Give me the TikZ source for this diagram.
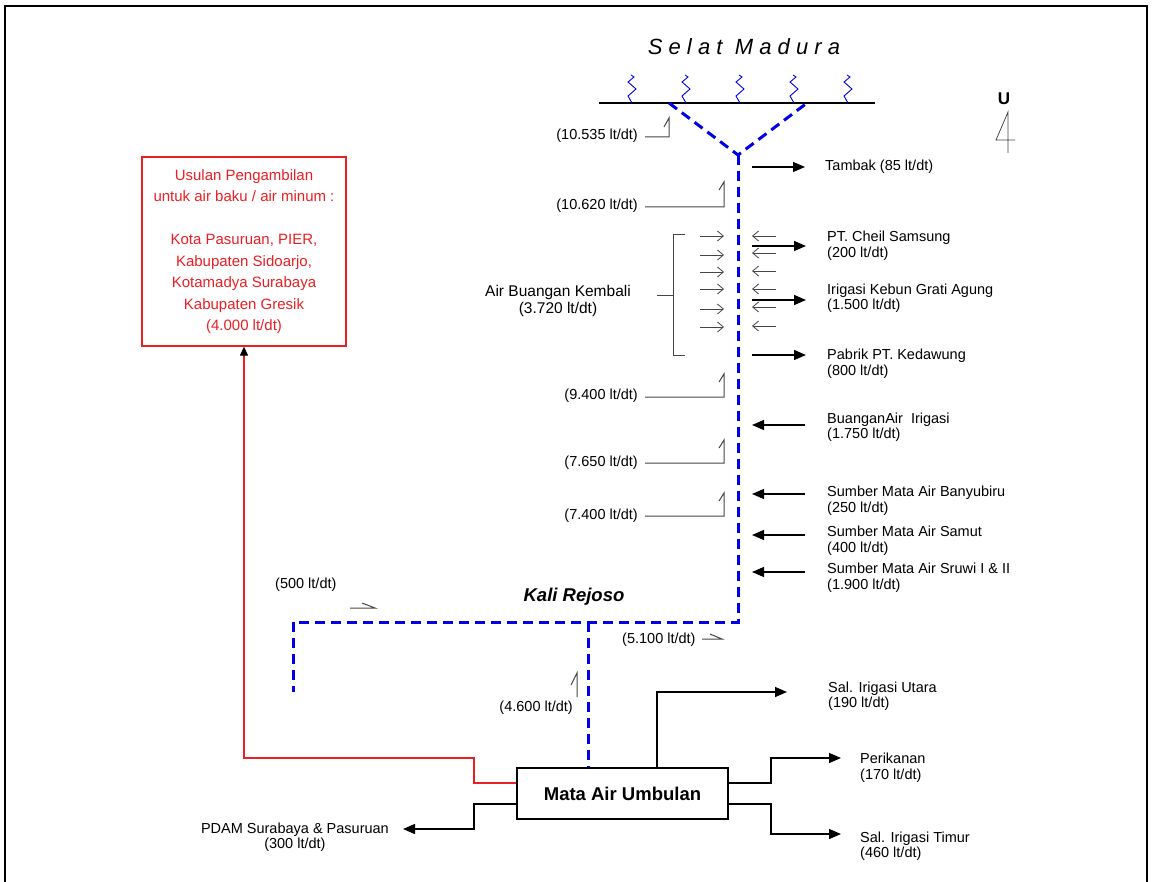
\documentclass[tikz,border=0pt]{standalone}
\usepackage{fontspec}
\setmainfont{Liberation Sans}
\usetikzlibrary{arrows.meta}
\definecolor{riverblue}{RGB}{0,0,230}
\definecolor{usulred}{RGB}{235,30,35}
\definecolor{markgray}{RGB}{70,70,70}

\begin{document}
\begin{tikzpicture}[x=1pt, y=-1pt,
  lbl/.style = {anchor=west, align=left, inner sep=0pt,
    font=\fontsize{14.5}{15.5}\selectfont},
  qty/.style = {anchor=east, inner sep=0pt,
    font=\fontsize{14.5}{15.5}\selectfont},
  river/.style = {draw=riverblue, line width=3pt, dash pattern=on 10pt off 6pt},
  wave/.style = {draw=riverblue, line width=0.9pt},
  outflow/.style = {draw, line width=1.3pt, -{Triangle[length=12pt,width=10pt]}},
  backarrow/.style = {draw=markgray, line width=0.8pt,
    -{Straight Barb[length=6pt,width=10pt]}},
  qmark/.style = {draw=markgray, line width=1pt},
  sourcebox/.style = {draw, line width=1.3pt, minimum width=211pt,
    minimum height=51pt, font=\fontsize{18.5}{20}\selectfont\bfseries},
  usulbox/.style = {draw=usulred, line width=1.3pt, text=usulred,
    minimum width=204pt, minimum height=189pt, align=center,
    font=\fontsize{15}{21.5}\selectfont}]
  \useasboundingbox (0,0) rectangle (1153,882);
  \draw[line width=2pt] (5,882) |- (1147,6) -- (1147,882);

  % sea and river
  \node[font=\fontsize{22}{26}\selectfont\itshape\addfontfeature{LetterSpace=28}]
    (selat) at (744,47) {Selat Madura};
  \coordinate (seaW) at (599,103);
  \coordinate (seaE) at (875,103);
  \draw[line width=1.3pt] (seaW) -- (seaE);
  \foreach \x in {632,686,740,794,848}
    \draw[wave] (\x,103) -- (\x-4,96) -- (\x+4,89) -- (\x-4,82) -- (\x+2,77) -- (\x-1,75);
  \coordinate (mouthL) at (669,103);
  \coordinate (mouthR) at (807,103);
  \coordinate (fork) at (738,155);
  \coordinate (bend) at (738,622);
  \coordinate (west) at (293,622);
  \coordinate (westend) at (293,692);
  \coordinate (tap) at (588,622);
  \draw[river] (mouthL) -- (fork) -- (mouthR);
  \draw[river] (fork) -- (bend) -- (west) -- (westend);
  \node[font=\fontsize{18.5}{20}\selectfont\bfseries\itshape] (rejoso) at (574,597) {Kali Rejoso};

  % north sign
  \node[font=\fontsize{17}{18}\selectfont\bfseries] (north) at (1004,99) {U};
  \draw[markgray, line width=0.8pt] (1008,153) -- (1008,112) -- (996,140) -- (1015,140);

  % source and proposal
  \node[sourcebox] (umbulan) at (622.5,793.5) {Mata Air Umbulan};
  \draw[river] (tap) -- (umbulan.north -| tap);
  \node[usulbox] (usulan) at (244,251.5) {Usulan Pengambilan\\untuk air baku / air minum :\\[21.5pt]
    Kota Pasuruan, PIER,\\Kabupaten Sidoarjo,\\Kotamadya Surabaya\\Kabupaten Gresik\\(4.000 lt/dt)};
  \draw[usulred, line width=1.3pt, -{Triangle[length=9pt,width=8pt,color=black]}]
    (umbulan.west |- 0,783) -- (474,783) |- (usulan.south |- 0,758) -- (usulan.south);

  % outflows from the source
  \node[lbl] (utara) at (828,696) {Sal. Irigasi Utara\\(190 lt/dt)};
  \node[lbl] (perikanan) at (860,767.5) {Perikanan\\(170 lt/dt)};
  \node[lbl] (timur) at (860,846) {Sal. Irigasi Timur\\(460 lt/dt)};
  \node[lbl, anchor=east, align=center] (pdam) at (389,837) {PDAM Surabaya \& Pasuruan\\(300 lt/dt)};
  \draw[outflow] (umbulan.north -| 657,0) |- ([xshift=-41pt,yshift=4pt]utara.west);
  \draw[outflow] (umbulan.east |- 0,783) -- (771,783) |- ([xshift=-19pt,yshift=9.5pt]perikanan.west);
  \draw[outflow] (umbulan.east |- 0,804) -- (771,804) |- ([xshift=-19pt,yshift=12pt]timur.west);
  \draw[outflow] (umbulan.west |- 0,804) -- (474,804) |- ([xshift=14pt,yshift=8pt]pdam.east);

  % takes and inflows along the river
  \node[lbl] (tambak) at (825,167) {Tambak (85 lt/dt)};
  \node[lbl] (cheil) at (827,245.5) {PT. Cheil Samsung\\(200 lt/dt)};
  \node[lbl] (grati) at (827,298) {Irigasi Kebun Grati Agung\\(1.500 lt/dt)};
  \node[lbl] (kedawung) at (827,363.5) {Pabrik PT. Kedawung\\(800 lt/dt)};
  \node[lbl] (irigasi) at (827,427) {BuanganAir\ \ Irigasi\\(1.750 lt/dt)};
  \node[lbl] (banyubiru) at (827,500.5) {Sumber Mata Air Banyubiru\\(250 lt/dt)};
  \node[lbl] (samut) at (827,540.5) {Sumber Mata Air Samut\\(400 lt/dt)};
  \node[lbl] (sruwi) at (827,577.5) {Sumber Mata Air Sruwi I \& II\\(1.900 lt/dt)};
  \draw[outflow] (tambak.west) ++(-73,0) -- ++(53,0);
  \draw[outflow] (cheil.west) ++(-75,0.5) -- ++(54,0);
  \draw[outflow] (grati.west) ++(-75,2) -- ++(54,0);
  \draw[outflow] (kedawung.west) ++(-75,-8.5) -- ++(54,0);
  \draw[outflow] (irigasi.west) ++(-22,-2) -- ++(-53,0);
  \draw[outflow] (banyubiru.west) ++(-22,-6.5) -- ++(-53,0);
  \draw[outflow] (samut.west) ++(-22,-5.5) -- ++(-53,0);
  \draw[outflow] (sruwi.west) ++(-22,-5.5) -- ++(-53,0);

  % return flows
  \node[lbl, anchor=center, align=center, font=\fontsize{15.5}{16.5}\selectfont]
    (kembali) at (558,301) {Air Buangan Kembali\\(3.720 lt/dt)};
  \draw[qmark] (685,235) -| (673,355) -- (685,355) (673,296) -- (657,296);
  \foreach \y in {236,255,272,289,309,327}
    \draw[backarrow] (700,\y) -- (724,\y);
  \foreach \y in {236,253,271,289,307,326}
    \draw[backarrow] (776,\y) -- (752,\y);

  % discharges
  \node[qty] (q1) at (638,136) {(10.535 lt/dt)};
  \node[qty] (q2) at (638,206) {(10.620 lt/dt)};
  \node[qty] (q3) at (638,396) {(9.400 lt/dt)};
  \node[qty] (q4) at (638,463) {(7.650 lt/dt)};
  \node[qty] (q5) at (638,516) {(7.400 lt/dt)};
  \draw[qmark] (q1.east) ++(7,1) -| ++(24,-19) -- ++(-5,9);
  \draw[qmark] (q2.east) ++(7,1) -| ++(79,-25) -- ++(-5,8);
  \draw[qmark] (q3.east) ++(7,1) -| ++(79,-23) -- ++(-5,8);
  \draw[qmark] (q4.east) ++(7,0) -| ++(79,-23) -- ++(-5,8);
  \draw[qmark] (q5.east) ++(7,0) -| ++(79,-23) -- ++(-5,8);
  \node[qty, anchor=west] (q6) at (275,585) {(500 lt/dt)};
  \node[qty, anchor=west] (q7) at (622,640) {(5.100 lt/dt)};
  \node[qty] (q8) at (573,708) {(4.600 lt/dt)};
  \draw[qmark] (350,608) -- (375,608) -- (362,603);
  \draw[qmark] (702,639) -- (722,639) -- (710,634);
  \draw[qmark] (577,697) -- (577,673) -- (571,685);
\end{tikzpicture}
\end{document}
